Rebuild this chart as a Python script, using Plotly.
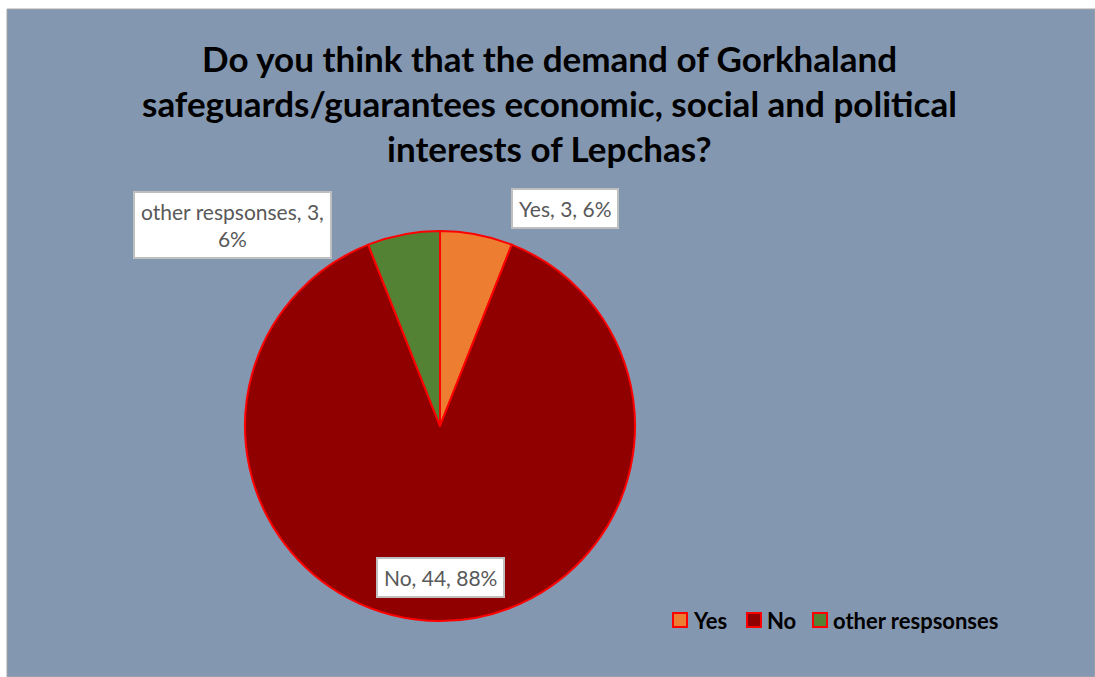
import plotly.graph_objects as go

categories = ["Yes", "No", "other respsonses"]
counts = [3, 44, 3]
slice_colors = ["#ED7D31", "#900000", "#548235"]

title_lines = [
    "Do you think that the demand of Gorkhaland",
    "safeguards/guarantees economic, social and political",
    "interests of Lepchas?",
]

W, H = 1095, 677
ML, MT = 7, 9
PW, PH = W - ML, H - MT


def px(x):
    return (x - ML) / PW


def py(y):
    return 1 - (y - MT) / PH


total = sum(counts)
pcts = [round(100 * c / total) for c in counts]

fig = go.Figure(
    go.Pie(
        labels=categories,
        values=counts,
        sort=False,
        direction="clockwise",
        rotation=0,
        marker=dict(colors=slice_colors, line=dict(color="#FF0000", width=2)),
        textinfo="none",
        hoverinfo="label+value+percent",
        showlegend=False,
        domain=dict(x=[px(245), px(635)], y=[py(621), py(231)]),
    )
)

# Data labels in white boxes
label_pos = {
    "Yes": (565, 209),
    "No": (440, 577),
    "other respsonses": (232, 225),
}
for cat, c, p in zip(categories, counts, pcts):
    txt = f"{cat}, {c}, {p}%"
    if cat == "other respsonses":
        txt = f"{cat}, {c},<br>{p}%"
    x, y = label_pos[cat]
    fig.add_annotation(
        x=px(x), y=py(y), xref="paper", yref="paper",
        text=txt, showarrow=False,
        font=dict(family="Lato", size=21, color="#595959"),
        bgcolor="white", bordercolor="#BFBFBF", borderwidth=2, borderpad=6,
        xanchor="center", yanchor="middle",
    )

# Title
for i, line in enumerate(title_lines):
    fig.add_annotation(
        x=px(549), y=py(58 + 45 * i), xref="paper", yref="paper",
        text=f"<b>{line}</b>", showarrow=False,
        font=dict(family="Lato", size=35, color="black"),
        xanchor="center", yanchor="middle",
    )

# Chart area background
fig.add_shape(
    type="rect", xref="paper", yref="paper", x0=0, y0=0, x1=1, y1=1,
    fillcolor="#8497B0", line=dict(color="#A6A6A6", width=1), layer="below",
)

# Legend: swatch + bold label per category
legend_x = [673, 747, 813]
legend_y = 620
sw = 14
for cat, col, lx in zip(categories, slice_colors, legend_x):
    fig.add_shape(
        type="rect", xref="paper", yref="paper",
        x0=px(lx), x1=px(lx + sw), y0=py(legend_y + sw / 2), y1=py(legend_y - sw / 2),
        fillcolor=col, line=dict(color="#FF0000", width=2),
    )
    fig.add_annotation(
        x=px(lx + sw + 4), y=py(legend_y), xref="paper", yref="paper",
        text=f"<b>{cat}</b>", showarrow=False,
        font=dict(family="Lato", size=22, color="black"),
        xanchor="left", yanchor="middle",
    )

fig.update_layout(
    width=W, height=H,
    margin=dict(l=ML, t=MT, r=0, b=0),
    paper_bgcolor="white",
    showlegend=False,
)

fig.write_html("out.html")
